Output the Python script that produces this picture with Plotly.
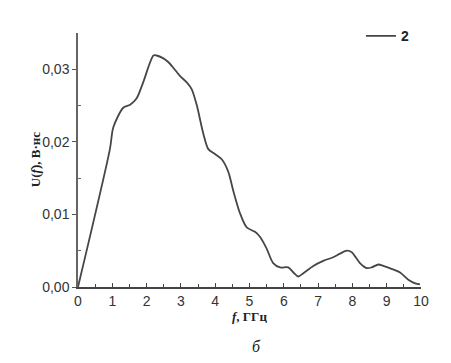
import plotly.graph_objects as go

freq_ghz = [0, 0.93, 1.03, 1.32, 1.52, 1.71, 1.9, 2.2, 2.29, 2.49, 2.63, 2.78, 2.97, 3.17, 3.31,
            3.46, 3.65, 3.8, 4.0, 4.19, 4.38, 4.53, 4.72, 4.92, 5.16, 5.31, 5.5, 5.69, 5.89,
            6.13, 6.28, 6.42, 6.57, 6.86, 7.15, 7.44, 7.64, 7.84, 7.98, 8.22, 8.42, 8.56,
            8.76, 8.9, 9.14, 9.39, 9.63, 9.83, 9.97]
u_vns = [0, 0.019, 0.022, 0.0247, 0.0251, 0.026, 0.0282, 0.0319, 0.0319, 0.0315, 0.031, 0.0302,
         0.0291, 0.0282, 0.0273, 0.0251, 0.0212, 0.019, 0.0183, 0.0176, 0.0159, 0.0132, 0.0102,
         0.0082, 0.0076, 0.0069, 0.0053, 0.0033, 0.0027, 0.0027, 0.002, 0.00145, 0.0019, 0.0029,
         0.0036, 0.0041, 0.0046, 0.005, 0.0048, 0.0033, 0.0026, 0.0027, 0.0031, 0.0029, 0.0025,
         0.002, 0.001, 0.0005, 0.00035]

x_tick_vals = [0, 1, 2, 3, 4, 5, 6, 7, 8, 9, 10]
x_tick_text = ["0", "1", "2", "3", "4", "5", "6", "7", "8", "9", "10"]
y_tick_vals = [0, 0.01, 0.02, 0.03]
y_tick_text = ["0,00", "0,01", "0,02", "0,03"]

fig = go.Figure()
fig.add_trace(go.Scatter(
    x=freq_ghz, y=u_vns, mode="lines", name="<b>2</b>",
    line=dict(color="#464646", width=1.8, shape="spline", smoothing=0.8),
    cliponaxis=False,
))

tick_font = dict(family="Liberation Sans, Arial", size=14, color="#333333")
fig.update_layout(
    width=443, height=355,
    margin=dict(l=70, r=30, t=13, b=76),
    paper_bgcolor="white", plot_bgcolor="white",
    showlegend=True,
    legend=dict(x=0.825, y=1.05, xanchor="left", yanchor="top",
                font=dict(family="Liberation Sans, Arial", size=14, color="#222222"),
                bgcolor="rgba(0,0,0,0)", itemwidth=30),
    xaxis=dict(range=[0, 10], tickvals=x_tick_vals, ticktext=x_tick_text,
               showgrid=False, zeroline=False, showline=True, linecolor="#444444", linewidth=1.5,
               ticks="inside", ticklen=4, tickcolor="#444444", tickfont=tick_font,
               minor=dict(tickvals=[0.5 + i for i in range(10)], ticks="inside", ticklen=3,
                          tickcolor="#444444", showgrid=False)),
    yaxis=dict(range=[0, 0.035], tickvals=y_tick_vals, ticktext=y_tick_text,
               showgrid=False, zeroline=False, showline=True, linecolor="#666666", linewidth=1.5,
               ticks="outside", ticklen=4, tickcolor="#555555", tickfont=tick_font,
               minor=dict(tickvals=[0.005, 0.015, 0.025], ticks="inside", ticklen=3,
                          tickcolor="#666666", showgrid=False)),
    annotations=[
        dict(text="<b><i>f</i>, ГГц</b>", xref="paper", yref="paper", x=0.5, y=-0.117,
             xanchor="center", yanchor="middle", showarrow=False,
             font=dict(family="Liberation Serif, Times New Roman", size=13, color="#222222")),
        dict(text="<b>U(<i>f</i>), В·нс</b>", xref="paper", yref="paper", x=-0.125, y=0.5,
             xanchor="center", yanchor="middle", showarrow=False, textangle=-90,
             font=dict(family="Liberation Serif, Times New Roman", size=13, color="#222222")),
        dict(text="<i>б</i>", xref="paper", yref="paper", x=0.52, y=-0.235,
             xanchor="center", yanchor="middle", showarrow=False,
             font=dict(family="Liberation Serif, Times New Roman", size=16, color="#222222")),
    ],
)

fig.write_html("out.html")
